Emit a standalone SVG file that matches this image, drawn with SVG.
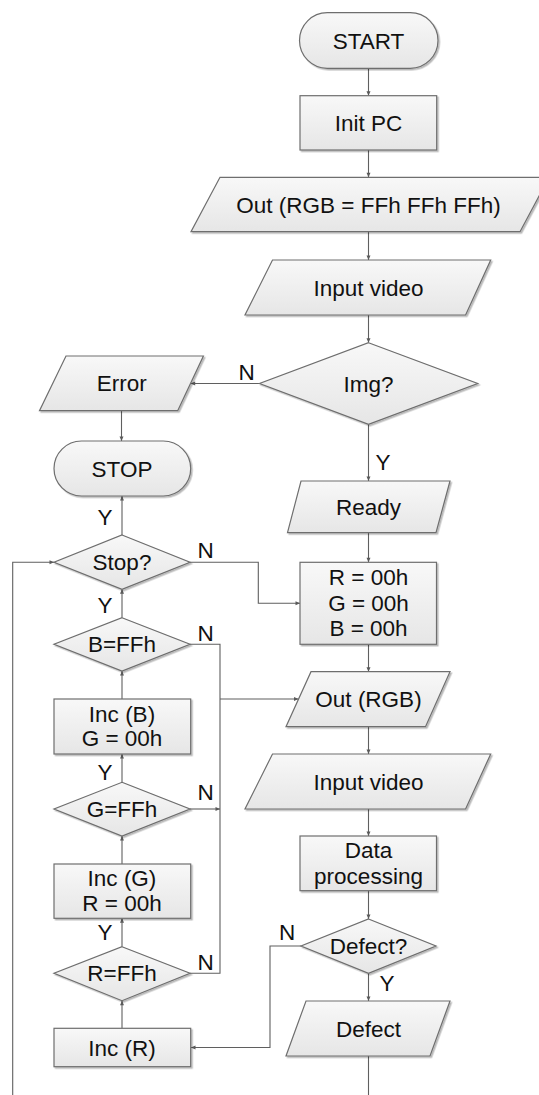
<svg xmlns="http://www.w3.org/2000/svg" width="539" height="1095" viewBox="0 0 539 1095">
<defs>
<linearGradient id="g" x1="0" y1="0" x2="0" y2="1">
<stop offset="0" stop-color="#f8f8f8"/>
<stop offset="1" stop-color="#e6e6e6"/>
</linearGradient>
<filter id="sh" x="-10%" y="-10%" width="125%" height="130%">
<feDropShadow dx="1.5" dy="1.5" stdDeviation="0.7" flood-color="#000" flood-opacity="0.28"/>
</filter>
<marker id="ah" markerUnits="userSpaceOnUse" markerWidth="6" markerHeight="6" viewBox="0 0 6 6" refX="5.5" refY="3" orient="auto">
<path d="M1,1 L5.5,3 L1,5 Z" fill="#5a5a5a"/>
</marker>
<style>
.s{fill:url(#g);stroke:#6e6e6e;stroke-width:1.2;filter:url(#sh)}
.t{font-family:"Liberation Sans",Arial,sans-serif;font-size:22.5px;fill:#111;text-anchor:middle}
.c{fill:none;stroke:#5f5f5f;stroke-width:1.1}
.a{marker-end:url(#ah)}
</style>
</defs>

<g id="connectors">
<path class="c a" d="M368.5,68.3 V95.7"/>
<path class="c a" d="M368.5,150 V177.3"/>
<path class="c a" d="M368.5,231.7 V260"/>
<path class="c a" d="M368.5,315 V342.7"/>
<path class="c a" d="M259.5,383.5 H190.7"/>
<path class="c a" d="M121.5,410.7 V441"/>
<path class="c a" d="M368.5,424.3 V481"/>
<path class="c a" d="M368.5,532.7 V562.3"/>
<path class="c a" d="M122,535 V496"/>
<path class="c a" d="M190,562.3 H258.3 V603.3 H300"/>
<path class="c a" d="M12.7,1095 V562.3 H54"/>
<path class="c a" d="M122,617.7 V589.3"/>
<path class="c" d="M190,644.3 H220 V973.3 H190"/>
<path class="c a" d="M220,699 H298.5"/>
<path class="c a" d="M190,809 H220"/>
<path class="c a" d="M368.5,644.3 V671.7"/>
<path class="c a" d="M122,699 V671"/>
<path class="c a" d="M368.5,726.7 V754"/>
<path class="c a" d="M122,782.3 V754"/>
<path class="c a" d="M368.5,809 V836"/>
<path class="c a" d="M122,864 V836"/>
<path class="c a" d="M368.5,890.7 V919"/>
<path class="c a" d="M122,946.7 V918.3"/>
<path class="c a" d="M301,946 H270 V1047.5 H191"/>
<path class="c a" d="M368.5,973.3 V1001"/>
<path class="c a" d="M122,1028.3 V1000.7"/>
<path class="c" d="M368.5,1056 V1095"/>
</g>

<g id="labels">
<text class="t" x="246.7" y="380">N</text>
<text class="t" x="383" y="470">Y</text>
<text class="t" x="105" y="525">Y</text>
<text class="t" x="205.7" y="558">N</text>
<text class="t" x="105" y="613">Y</text>
<text class="t" x="205.7" y="641">N</text>
<text class="t" x="105" y="780">Y</text>
<text class="t" x="205.7" y="800">N</text>
<text class="t" x="105" y="940">Y</text>
<text class="t" x="287" y="940">N</text>
<text class="t" x="205.7" y="970">N</text>
<text class="t" x="387" y="991">Y</text>
</g>

<g id="start"><rect class="s" x="299.5" y="12.7" width="138.5" height="55.6" rx="27.8"/><text class="t" x="368.5" y="48.5">START</text></g>
<g id="init-pc"><rect class="s" x="300" y="95.7" width="136.7" height="54.3"/><text class="t" x="368.5" y="131">Init PC</text></g>
<g id="out-ffh"><polygon class="s" points="220,177.3 549,177.3 520,231.7 191,231.7"/><text class="t" x="368.5" y="212.5">Out (RGB = FFh FFh FFh)</text></g>
<g id="input-video-1"><polygon class="s" points="272.5,260 490.7,260 465.6,315 245,315"/><text class="t" x="368.5" y="295.5">Input video</text></g>
<g id="img"><polygon class="s" points="368.5,342.7 477.7,383.5 368.5,424.3 259.5,383.5"/><text class="t" x="368.5" y="391.5">Img?</text></g>
<g id="error"><polygon class="s" points="66,356 203.4,356 177.7,410.7 39.5,410.7"/><text class="t" x="121.7" y="391">Error</text></g>
<g id="stop"><rect class="s" x="54" y="441" width="136.7" height="55" rx="27.5"/><text class="t" x="122" y="476.5">STOP</text></g>
<g id="ready"><polygon class="s" points="301,481 450,481 436,532.7 287.5,532.7"/><text class="t" x="368.5" y="515">Ready</text></g>
<g id="stop-q"><polygon class="s" points="122,535 190,562.3 122,589.3 54,562.3"/><text class="t" x="122" y="570">Stop?</text></g>
<g id="rgb-reset"><rect class="s" x="300" y="562.3" width="136.5" height="82"/><text class="t" x="368.5" y="585">R = 00h</text><text class="t" x="368.5" y="610.5">G = 00h</text><text class="t" x="368.5" y="636">B = 00h</text></g>
<g id="b-ffh"><polygon class="s" points="122,617.7 190,644.3 122,671 54,644.3"/><text class="t" x="122" y="652">B=FFh</text></g>
<g id="out-rgb"><polygon class="s" points="311,671.7 450,671.7 425.5,726.7 286,726.7"/><text class="t" x="368.5" y="707">Out (RGB)</text></g>
<g id="inc-b"><rect class="s" x="54" y="699" width="136.7" height="55"/><text class="t" x="122" y="722">Inc (B)</text><text class="t" x="122" y="746">G = 00h</text></g>
<g id="input-video-2"><polygon class="s" points="272.5,754 490.7,754 465.6,809 245,809"/><text class="t" x="368.5" y="789.5">Input video</text></g>
<g id="g-ffh"><polygon class="s" points="122,782.3 190,809 122,836 54,809"/><text class="t" x="122" y="817">G=FFh</text></g>
<g id="data-processing"><rect class="s" x="300" y="836" width="136.5" height="54.7"/><text class="t" x="368.5" y="858">Data</text><text class="t" x="368.5" y="884">processing</text></g>
<g id="inc-g"><rect class="s" x="54" y="864" width="136.7" height="54.3"/><text class="t" x="122" y="886">Inc (G)</text><text class="t" x="122" y="911">R = 00h</text></g>
<g id="defect-q"><polygon class="s" points="368.5,919 436,946 368.5,973.3 301,946"/><text class="t" x="368.5" y="954">Defect?</text></g>
<g id="r-ffh"><polygon class="s" points="122,946.7 190,973.3 122,1000.7 54,973.3"/><text class="t" x="122" y="981">R=FFh</text></g>
<g id="defect"><polygon class="s" points="306,1001 450,1001 430,1056 286,1056"/><text class="t" x="368.5" y="1036.5">Defect</text></g>
<g id="inc-r"><rect class="s" x="54" y="1028.3" width="136.7" height="38.4"/><text class="t" x="122" y="1055.5">Inc (R)</text></g>
</svg>
